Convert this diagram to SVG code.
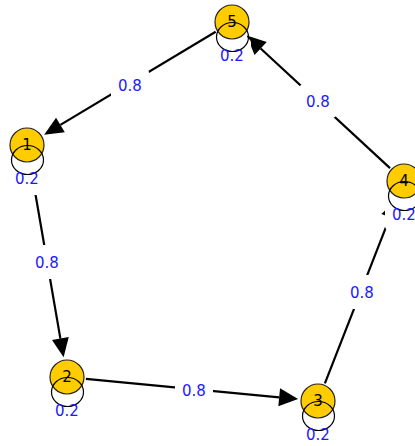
<svg xmlns="http://www.w3.org/2000/svg" width="415" height="446" viewBox="0 0 415 446">
<style>
.edge{stroke:#000;stroke-width:2.2;fill:none}
.head{fill:#000;stroke:none}
.lbox{fill:#fff;stroke:none}
.node{fill:#ffcc00;stroke:#222;stroke-width:1.2}
.loop{fill:none;stroke:#000;stroke-width:1.2}
.ntxt{font-family:"DejaVu Sans",sans-serif;font-size:15px;fill:#000;text-anchor:middle}
.etxt{font-family:"DejaVu Sans",sans-serif;font-size:15px;fill:#1a1aff;text-anchor:middle}
</style>
<g id="connectors">
  <line class="edge" x1="215.7" y1="31.8" x2="60.4" y2="124.9"/>
  <polygon class="head" points="44.15,134.7 56.07,117.64 64.81,132.22"/>
  <line class="edge" x1="30.2" y1="163.7" x2="60.4" y2="338.6"/>
  <polygon class="head" points="63.6,357.3 51.99,340 68.75,337.1"/>
  <line class="edge" x1="85.9" y1="378.8" x2="279.2" y2="397.3"/>
  <polygon class="head" points="298.1,399.1 278.33,406.25 280.05,388.33"/>
  <line class="edge" x1="324.9" y1="383.3" x2="389.8" y2="217.3"/>
  <polygon class="head" points="396.7,199.6 381.4,214 398.2,220.6"/>
  <line class="edge" x1="390" y1="168.1" x2="260.65" y2="48.5"/>
  <polygon class="head" points="246.7,35.6 266.76,41.89 254.54,55.11"/>
  <rect class="lbox" x="111" y="68" width="38" height="34" rx="5"/>
  <rect class="lbox" x="28" y="245" width="38" height="34" rx="5"/>
  <rect class="lbox" x="175" y="373" width="38" height="34" rx="5"/>
  <rect class="lbox" x="343" y="275" width="38" height="34" rx="5"/>
  <rect class="lbox" x="299" y="84" width="38" height="34" rx="5"/>
  <rect class="lbox" x="8" y="161" width="38" height="34" rx="5"/>
  <rect class="lbox" x="48" y="393" width="38" height="34" rx="5"/>
  <rect class="lbox" x="299" y="417" width="38" height="34" rx="5"/>
  <rect class="lbox" x="385" y="197" width="38" height="34" rx="5"/>
  <rect class="lbox" x="213" y="38" width="38" height="34" rx="5"/>
</g>
<g id="node1"><circle class="node" cx="27" cy="145" r="17"/><ellipse class="loop" cx="27.5" cy="160" rx="16" ry="14.5"/><text class="ntxt" x="27" y="150">1</text><text class="etxt" x="27" y="183.5">0.2</text></g>
<g id="node2"><circle class="node" cx="67" cy="377" r="17"/><ellipse class="loop" cx="67.5" cy="392" rx="16" ry="14.5"/><text class="ntxt" x="67" y="382">2</text><text class="etxt" x="67" y="415.5">0.2</text></g>
<g id="node3"><circle class="node" cx="318" cy="401" r="17"/><ellipse class="loop" cx="318.5" cy="416" rx="16" ry="14.5"/><text class="ntxt" x="318" y="406">3</text><text class="etxt" x="318" y="439.5">0.2</text></g>
<g id="node4"><circle class="node" cx="404" cy="181" r="17"/><ellipse class="loop" cx="404.5" cy="196" rx="16" ry="14.5"/><text class="ntxt" x="404" y="186">4</text><text class="etxt" x="404" y="219.5">0.2</text></g>
<g id="node5"><circle class="node" cx="232" cy="22" r="17"/><ellipse class="loop" cx="232.5" cy="37" rx="16" ry="14.5"/><text class="ntxt" x="232" y="27">5</text><text class="etxt" x="232" y="60.5">0.2</text></g>
<g id="edge-labels">
  <text class="etxt" x="130" y="90.5">0.8</text>
  <text class="etxt" x="47" y="267.5">0.8</text>
  <text class="etxt" x="194" y="395.5">0.8</text>
  <text class="etxt" x="362" y="297.5">0.8</text>
  <text class="etxt" x="318" y="106.5">0.8</text>
</g>
</svg>
